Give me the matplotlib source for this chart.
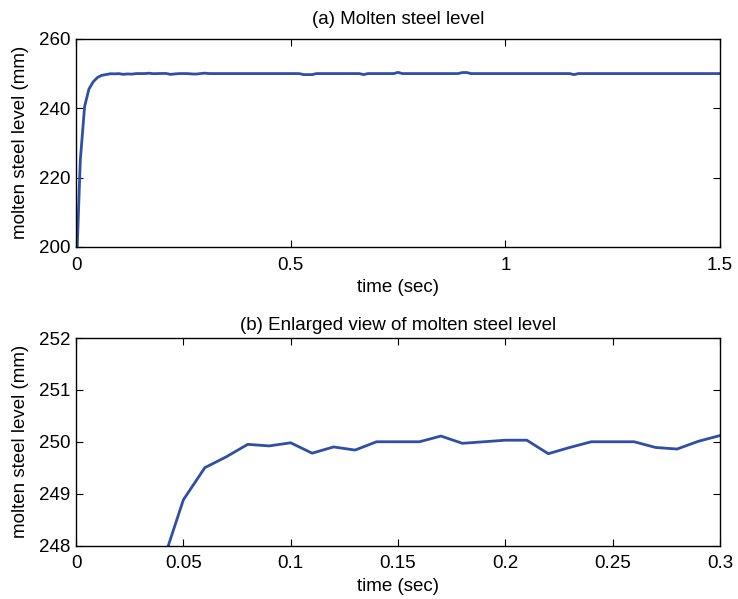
import matplotlib
matplotlib.use("Agg")
import matplotlib.pyplot as plt
from matplotlib.ticker import FuncFormatter

plt.rcParams["font.family"] = ["Liberation Sans", "DejaVu Sans"]

# nivel medido cada 0.01 s en los primeros 0.3 s
t_inicio = [0.00, 0.01, 0.02, 0.03, 0.04, 0.05, 0.06, 0.07, 0.08, 0.09, 0.10,
            0.11, 0.12, 0.13, 0.14, 0.15, 0.16, 0.17, 0.18, 0.19, 0.20,
            0.21, 0.22, 0.23, 0.24, 0.25, 0.26, 0.27, 0.28, 0.29, 0.30]
nivel_inicio = [190.0, 225.0, 240.5, 245.5, 247.62, 248.88, 249.50, 249.71, 249.95, 249.92, 249.98,
                249.78, 249.90, 249.84, 250.00, 250.00, 250.00, 250.11, 249.97, 250.00, 250.03,
                250.03, 249.77, 249.89, 250.00, 250.00, 250.00, 249.89, 249.86, 250.01, 250.12]

# resto de la simulacion (solo los puntos donde hay cambios)
t_resto = [0.31, 0.52, 0.53, 0.54, 0.55, 0.56, 0.66, 0.67, 0.68, 0.74, 0.75, 0.76,
           0.89, 0.90, 0.91, 0.92, 1.15, 1.16, 1.17, 1.50]
nivel_resto = [250.0, 250.0, 249.7, 249.7, 249.7, 250.0, 250.0, 249.7, 250.0, 250.0, 250.35, 250.0,
               250.0, 250.3, 250.3, 250.0, 250.0, 249.7, 250.0, 250.0]

t_total = t_inicio + t_resto
nivel_total = nivel_inicio + nivel_resto

color_linea = "#2f4fa6"
fs = 13.5


def estilo_matlab(ax):
    ax.tick_params(direction="in", top=True, right=True, length=5, width=0.8,
                   labelsize=fs)
    ax.tick_params(axis="x", pad=7)
    ax.tick_params(axis="y", pad=4)
    for sp in ax.spines.values():
        sp.set_linewidth(1.0)


fmt_g = FuncFormatter(lambda v, p: f"{v:g}")

fig = plt.figure(figsize=(7.38, 5.99), dpi=100)

ax1 = fig.add_axes([0.103, 0.588, 0.8726, 0.347])
ax1.plot(t_total, nivel_total, color=color_linea, linewidth=2.0)
ax1.set_xlim(0, 1.5)
ax1.set_ylim(200, 260)
ax1.set_xticks([0, 0.5, 1, 1.5])
ax1.set_yticks([200, 220, 240, 260])
ax1.xaxis.set_major_formatter(fmt_g)
ax1.set_xlabel("time (sec)", fontsize=fs, labelpad=4)
ax1.set_ylabel("molten steel level (mm)", fontsize=fs, labelpad=7)
ax1.set_title("(a) Molten steel level", fontsize=fs, pad=11)
estilo_matlab(ax1)

ax2 = fig.add_axes([0.103, 0.0893, 0.8726, 0.3464])
ax2.plot(t_inicio, nivel_inicio, color=color_linea, linewidth=2.0)
ax2.set_xlim(0, 0.3)
ax2.set_ylim(248, 252)
ax2.set_xticks([0, 0.05, 0.1, 0.15, 0.2, 0.25, 0.3])
ax2.set_yticks([248, 249, 250, 251, 252])
ax2.xaxis.set_major_formatter(fmt_g)
ax2.set_xlabel("time (sec)", fontsize=fs, labelpad=4)
ax2.set_ylabel("molten steel level (mm)", fontsize=fs, labelpad=7)
ax2.set_title("(b) Enlarged view of molten steel level", fontsize=fs, pad=6)
estilo_matlab(ax2)

fig.savefig("out.png", dpi=100)
